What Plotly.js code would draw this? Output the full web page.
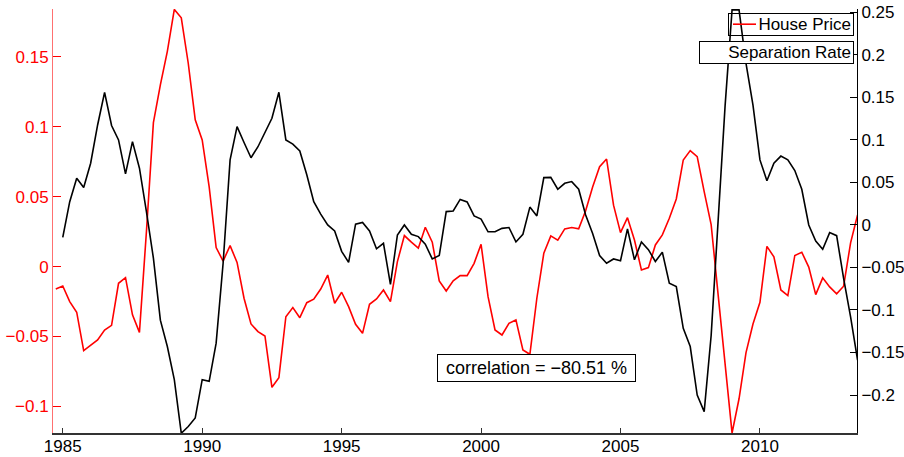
<!DOCTYPE html>
<html>
<head>
<meta charset="utf-8">
<script src="https://cdn.plot.ly/plotly-3.0.1.min.js"></script>
<style>html,body{margin:0;padding:0;background:#fff;}#chart{width:904px;height:457px;}</style>
</head>
<body>
<div id="chart"></div>
<script>
// Quarterly dates for the separation rate series (1985Q1 .. 2013Q3)
const startYear = 1985;
const nQuarters = 115;
const quarters = [];
for (let i = 0; i < nQuarters; i++) quarters.push(startYear + i / 4);

// House price (left axis), first value is 1984Q4
const housePriceDates = [1984.75].concat(quarters);
const housePrice = [
  -0.016,
  -0.0138, -0.025, -0.0326, -0.060,
  -0.0565, -0.0524, -0.0453, -0.042,
  -0.0119, -0.0079, -0.0345, -0.047,
  0.025, 0.103, 0.130, 0.154,
  0.184, 0.178, 0.1455, 0.105,
  0.0906, 0.057, 0.0136, 0.004,
  0.015, 0.003, -0.0226, -0.041,
  -0.0465, -0.0496, -0.0863, -0.0794,
  -0.0358, -0.0293, -0.0365, -0.0258,
  -0.0233, -0.016, -0.006, -0.0262,
  -0.0183, -0.0286, -0.0412, -0.0477,
  -0.0269, -0.0231, -0.0167, -0.025,
  0.0036, 0.0222, 0.0175, 0.0132,
  0.0282, 0.0175, -0.0102, -0.0174,
  -0.0102, -0.0064, -0.0064, 0.0024,
  0.016, -0.0215, -0.0453, -0.0489,
  -0.0405, -0.0381, -0.0596, -0.0627,
  -0.0226, 0.0096, 0.022, 0.019,
  0.027, 0.028, 0.027, 0.040,
  0.057, 0.0715, 0.077, 0.044,
  0.0243, 0.035, 0.019, -0.0024,
  -0.0007, 0.0155, 0.0227, 0.0346,
  0.0484, 0.0763, 0.083, 0.0787,
  0.0536, 0.030, -0.020, -0.069,
  -0.119, -0.0945, -0.0615, -0.041,
  -0.0255, 0.0145, 0.007, -0.0167,
  -0.0207, 0.008, 0.0103, -0.0003,
  -0.020, -0.008, -0.0145, -0.0195,
  -0.014, 0.017, 0.037
];

// Separation rate (right axis)
const separationRate = [
  -0.0145, 0.0274, 0.055, 0.044,
  0.0726, 0.1176, 0.156, 0.117,
  0.100, 0.060, 0.098, 0.0667,
  0.0157, -0.039, -0.112, -0.143,
  -0.182, -0.245, -0.237, -0.227,
  -0.182, -0.184, -0.139, -0.045,
  0.0765, 0.1157, 0.097, 0.079,
  0.092, 0.108, 0.1255, 0.156,
  0.100, 0.095, 0.087, 0.059,
  0.0274, 0.0128, 0.0, -0.007,
  -0.031, -0.044, 0.001, 0.003,
  -0.007, -0.028, -0.0216, -0.070,
  -0.0118, 0.0, -0.011, -0.0137,
  -0.0227, -0.040, -0.036, 0.0157,
  0.0165, 0.030, 0.027, 0.0106,
  0.007, -0.008, -0.008, -0.004,
  -0.003, -0.020, -0.011, 0.021,
  0.0106, 0.0557, 0.056, 0.042,
  0.049, 0.051, 0.042, 0.0118,
  -0.010, -0.036, -0.045, -0.040,
  -0.042, -0.0047, -0.041, -0.020,
  -0.029, -0.043, -0.032, -0.0686,
  -0.0725, -0.1216, -0.143, -0.200,
  -0.2196, -0.13, 0.008, 0.14,
  0.253, 0.253, 0.19, 0.141,
  0.0765, 0.052, 0.0726, 0.081,
  0.0765, 0.064, 0.042, 0.0,
  -0.019, -0.0286, -0.009, -0.0126,
  -0.0627, -0.108, -0.159
];

const xTicks = [1985, 1990, 1995, 2000, 2005, 2010];
const seriesNames = ['House Price', 'Separation Rate'];
const seriesColors = ['#ff0000', '#000000'];
const correlationText = 'correlation = \u221280.51 %';

const font = 'Liberation Sans, Arial, Helvetica, sans-serif';

const traces = [
  {
    x: housePriceDates, y: housePrice, name: seriesNames[0],
    type: 'scatter', mode: 'lines', yaxis: 'y', showlegend: false,
    line: {color: seriesColors[0], width: 1.6}
  },
  {
    x: quarters, y: separationRate, name: seriesNames[1],
    type: 'scatter', mode: 'lines', yaxis: 'y2', showlegend: false,
    line: {color: seriesColors[1], width: 1.6}
  }
];

// pixel helpers for the plot area (l=53, r=857, t=9, b=433)
const PL = 53, PR = 857, PT = 9, PB = 433;
const px = v => (v - PL) / (PR - PL);
const py = v => (PB - v) / (PB - PT);

function legendBox(name, color, right, top, width, sampleLeft, sampleRight, bg) {
  return {
    ann: {
      xref: 'paper', yref: 'paper', x: px(right), y: py(top),
      xanchor: 'right', yanchor: 'top', showarrow: false,
      text: name, align: 'right', valign: 'middle',
      width: width - 6, height: 17,
      font: {size: 17, family: font, color: '#000'},
      bgcolor: bg, bordercolor: '#000', borderwidth: 1, borderpad: 2
    },
    shape: {
      type: 'line', xref: 'paper', yref: 'paper',
      x0: px(sampleLeft), x1: px(sampleRight), y0: py(top + 11.5), y1: py(top + 11.5),
      line: {color: color, width: 1.6}
    }
  };
}

const lg1 = legendBox(seriesNames[0], seriesColors[0], 854, 12.7, 126, 733, 756, 'rgba(255,255,255,0)');
const lg2 = legendBox(seriesNames[1], seriesColors[1], 854, 40.7, 155, 704, 727, '#ffffff');

const layout = {
  width: 904, height: 457,
  margin: {l: PL, r: 904 - PR, t: PT, b: 457 - PB},
  paper_bgcolor: '#ffffff', plot_bgcolor: '#ffffff',
  font: {family: font, size: 17, color: '#000'},
  showlegend: false,
  xaxis: {
    range: [1984.65, 2013.48], tickvals: xTicks, ticktext: xTicks.map(String),
    ticks: 'inside', ticklen: 5, tickcolor: '#333', showline: true, linecolor: '#333', linewidth: 1.5,
    ticklabelstandoff: -3,
    showgrid: false, zeroline: false, tickfont: {size: 17, color: '#000'}
  },
  yaxis: {
    range: [-0.119, 0.1843], tick0: 0, dtick: 0.05,
    ticks: 'inside', ticklen: 8, tickcolor: '#ff0000', showline: true, linecolor: '#ff7070', linewidth: 1,
    showgrid: false, zeroline: false, tickfont: {size: 17, color: '#ff0000'}
  },
  yaxis2: {
    overlaying: 'y', side: 'right',
    range: [-0.2447, 0.254], tick0: 0, dtick: 0.05,
    ticks: 'inside', ticklen: 7, tickcolor: '#000', showline: true, linecolor: '#000', linewidth: 1,
    showgrid: false, zeroline: false, tickfont: {size: 17, color: '#000'}
  },
  shapes: [],
  annotations: [
    lg1.ann,
    lg2.ann,
    {
      xref: 'paper', yref: 'paper', x: px(436.7), y: py(354.3),
      xanchor: 'left', yanchor: 'top', showarrow: false,
      text: correlationText, align: 'center', valign: 'middle',
      width: 193, height: 22,
      font: {size: 18, family: font, color: '#000'},
      bgcolor: '#ffffff', bordercolor: '#000', borderwidth: 1, borderpad: 2
    }
  ]
};

Plotly.newPlot('chart', traces, layout, {displayModeBar: false, staticPlot: true}).then(() => {
  // legend sample lines drawn above the legend boxes
  Plotly.relayout('chart', {shapes: [lg1.shape, lg2.shape]});
});
</script>
</body>
</html>
